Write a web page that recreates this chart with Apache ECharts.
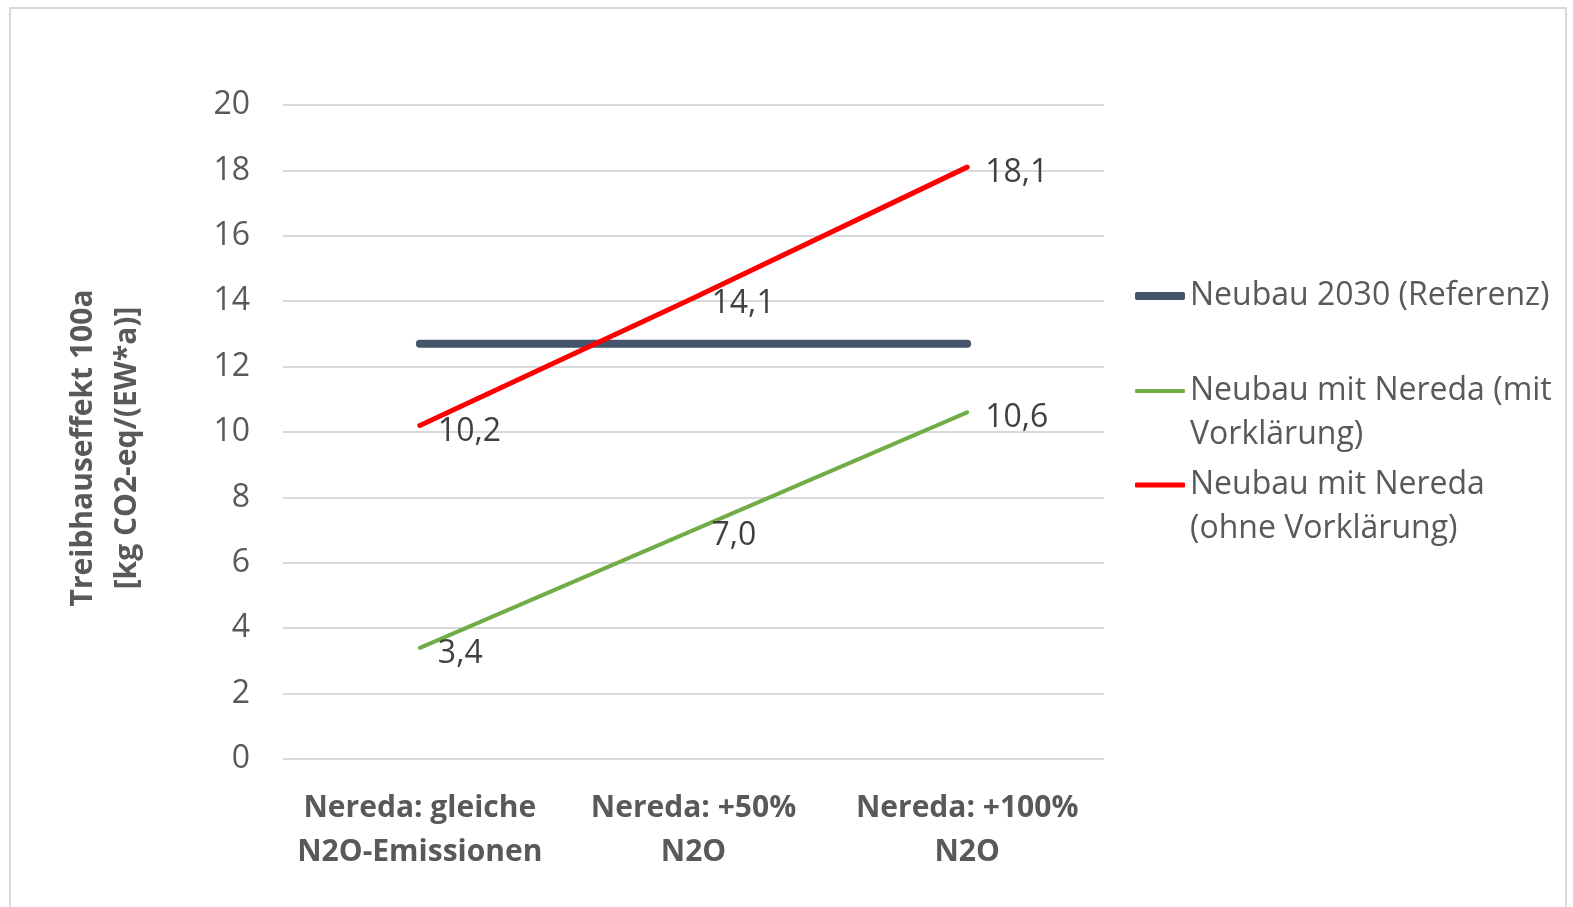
<!DOCTYPE html>
<html>
<head>
<meta charset="utf-8">
<script src="https://cdn.jsdelivr.net/npm/echarts@6/dist/echarts.min.js"></script>
<style>
html, body { margin: 0; padding: 0; background: #fff; }
#chart { width: 1573px; height: 907px; }
</style>
</head>
<body>
<div id="chart"></div>
<script>
var categories = ['Nereda: gleiche\nN2O-Emissionen', 'Nereda: +50%\nN2O', 'Nereda: +100%\nN2O'];
var referenz = [12.7, 12.7, 12.7];
var mitVorklaerung = [3.4, 7.0, 10.6];
var ohneVorklaerung = [10.2, 14.1, 18.1];
var yTicks = { min: 0, max: 20, interval: 2 };

var nameRef = 'Neubau 2030 (Referenz)';
var nameMit = 'Neubau mit Nereda (mit\nVorklärung)';
var nameOhne = 'Neubau mit Nereda\n(ohne Vorklärung)';

var font = 'Open Sans';
var fs = 32;
var fsBold = 30;

// one legend per item so the icon sits on the first text line
function legendAt(name, top, thick, twoLines) {
    return {
        data: [name],
        left: 1135,
        top: top,
        padding: 0,
        icon: 'roundRect',
        itemWidth: 50,
        itemHeight: thick,
        itemGap: 0,
        formatter: function (n) {
            return twoLines ? '\n' + n : n;
        },
        textStyle: { fontFamily: font, fontSize: fs, color: '#595959', lineHeight: 44 }
    };
}

var labelStyle = {
    show: true,
    position: 'right',
    distance: 18,
    offset: [0, 6],
    fontFamily: font,
    fontSize: fs,
    color: '#404040',
    formatter: function (p) {
        return p.value.toFixed(1).replace('.', ',');
    }
};

var myChart = echarts.init(document.getElementById('chart'));
myChart.setOption({
    animation: false,
    graphic: [{
        type: 'rect',
        shape: { x: 10, y: 8, width: 1556, height: 920 },
        style: { fill: 'none', stroke: '#d9d9d9', lineWidth: 2 },
        silent: true
    }],
    grid: { left: 283, right: 469, top: 105, bottom: 148 },
    legend: [
        legendAt(nameRef, 274, 8, false),
        legendAt(nameMit, 325, 4, true),
        legendAt(nameOhne, 419, 5, true)
    ],
    xAxis: {
        type: 'category',
        data: categories,
        axisLine: { show: false },
        axisTick: { show: false },
        axisLabel: {
            interval: 0,
            margin: 27,
            fontFamily: font,
            fontSize: fsBold,
            fontWeight: 'bold',
            color: '#595959',
            lineHeight: 44
        }
    },
    yAxis: {
        type: 'value',
        min: yTicks.min,
        max: yTicks.max,
        interval: yTicks.interval,
        name: 'Treibhauseffekt 100a\n[kg CO2-eq/(EW*a)]',
        nameLocation: 'middle',
        nameGap: 134,
        nameTextStyle: {
            fontFamily: font,
            fontSize: fsBold,
            fontWeight: 'bold',
            color: '#595959',
            lineHeight: 44,
            padding: [0, 32, 0, 0]
        },
        axisLabel: {
            margin: 33,
            fontFamily: font,
            fontSize: fs,
            color: '#595959'
        },
        splitLine: { lineStyle: { color: '#d9d9d9', width: 2 } }
    },
    series: [
        {
            name: nameRef,
            type: 'line',
            data: referenz,
            symbol: 'none',
            lineStyle: { color: '#44546a', width: 8, cap: 'round' },
            itemStyle: { color: '#44546a' }
        },
        {
            name: nameMit,
            type: 'line',
            data: mitVorklaerung,
            symbol: 'circle',
            symbolSize: 0,
            lineStyle: { color: '#70ad47', width: 4, cap: 'round' },
            itemStyle: { color: '#70ad47' },
            label: labelStyle
        },
        {
            name: nameOhne,
            type: 'line',
            data: ohneVorklaerung,
            symbol: 'circle',
            symbolSize: 0,
            lineStyle: { color: '#ff0000', width: 5, cap: 'round' },
            itemStyle: { color: '#ff0000' },
            label: labelStyle
        }
    ]
});
</script>
</body>
</html>
